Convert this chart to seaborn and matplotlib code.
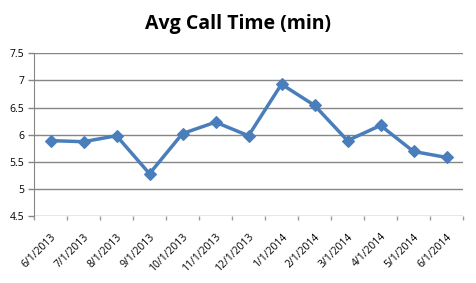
import matplotlib
matplotlib.use("Agg")
import matplotlib.pyplot as plt
import matplotlib.transforms as mtrans
import seaborn as sns
import pandas as pd
import numpy as np

months = ["6/1/2013", "7/1/2013", "8/1/2013", "9/1/2013", "10/1/2013", "11/1/2013",
          "12/1/2013", "1/1/2014", "2/1/2014", "3/1/2014", "4/1/2014", "5/1/2014", "6/1/2014"]
avg_call_time = [5.89, 5.87, 5.98, 5.28, 6.02, 6.23, 5.98, 6.93, 6.54, 5.89, 6.17, 5.69, 5.58]
y_ticks = [4.5, 5, 5.5, 6, 6.5, 7, 7.5]
y_tick_labels = ["4.5", "5", "5.5", "6", "6.5", "7", "7.5"]

sns.set_style("white")
plt.rcParams['font.family'] = ['Open Sans', 'DejaVu Sans']

df = pd.DataFrame({"pos": np.arange(len(months)), "val": avg_call_time})

fig = plt.figure(figsize=(4.76, 2.83), dpi=100)
ax = fig.add_axes([34/476, 1-216/283, (463-34)/476, (216-53.3)/283])

sns.lineplot(data=df, x="pos", y="val", ax=ax, color="#4A7EBB", linewidth=2.5,
             marker="D", markersize=6.5, markeredgecolor="#4A7EBB", markeredgewidth=0.8)

ax.set_xlim(-0.5, len(months) - 0.5)
ax.set_ylim(4.5, 7.5)
ax.set_yticks(y_ticks)
ax.set_yticklabels(y_tick_labels, fontsize=7.5, color="black")
ax.yaxis.grid(True, color="#868686", linewidth=1.0)
ax.set_axisbelow(True)

ax.set_xticks(np.arange(len(months)))
ax.set_xticklabels(months, rotation=45, ha="right", rotation_mode="anchor", fontsize=7.5, color="black")
offset = mtrans.ScaledTranslation(2/100, 0, fig.dpi_scale_trans)
for lab in ax.get_xticklabels():
    lab.set_transform(lab.get_transform() + offset)
ax.set_xticks(np.arange(len(months) + 1) - 0.5, minor=True)
ax.tick_params(axis="x", which="major", length=0, pad=11)
ax.tick_params(axis="x", which="minor", length=3, color="#9a9a9a", width=1, direction="out", bottom=True)
ax.tick_params(axis="y", length=4, color="#868686", width=1, direction="out", left=True, pad=3)

for s in ["top", "right", "bottom"]:
    ax.spines[s].set_visible(False)
ax.spines["left"].set_color("#868686")
ax.set_xlabel("")
ax.set_ylabel("")

fig.text(0.5, 1 - 24/283, "Avg Call Time (min)", ha="center", va="center",
         fontsize=14, fontweight="bold", color="black")

fig.savefig("out.png", dpi=100)
